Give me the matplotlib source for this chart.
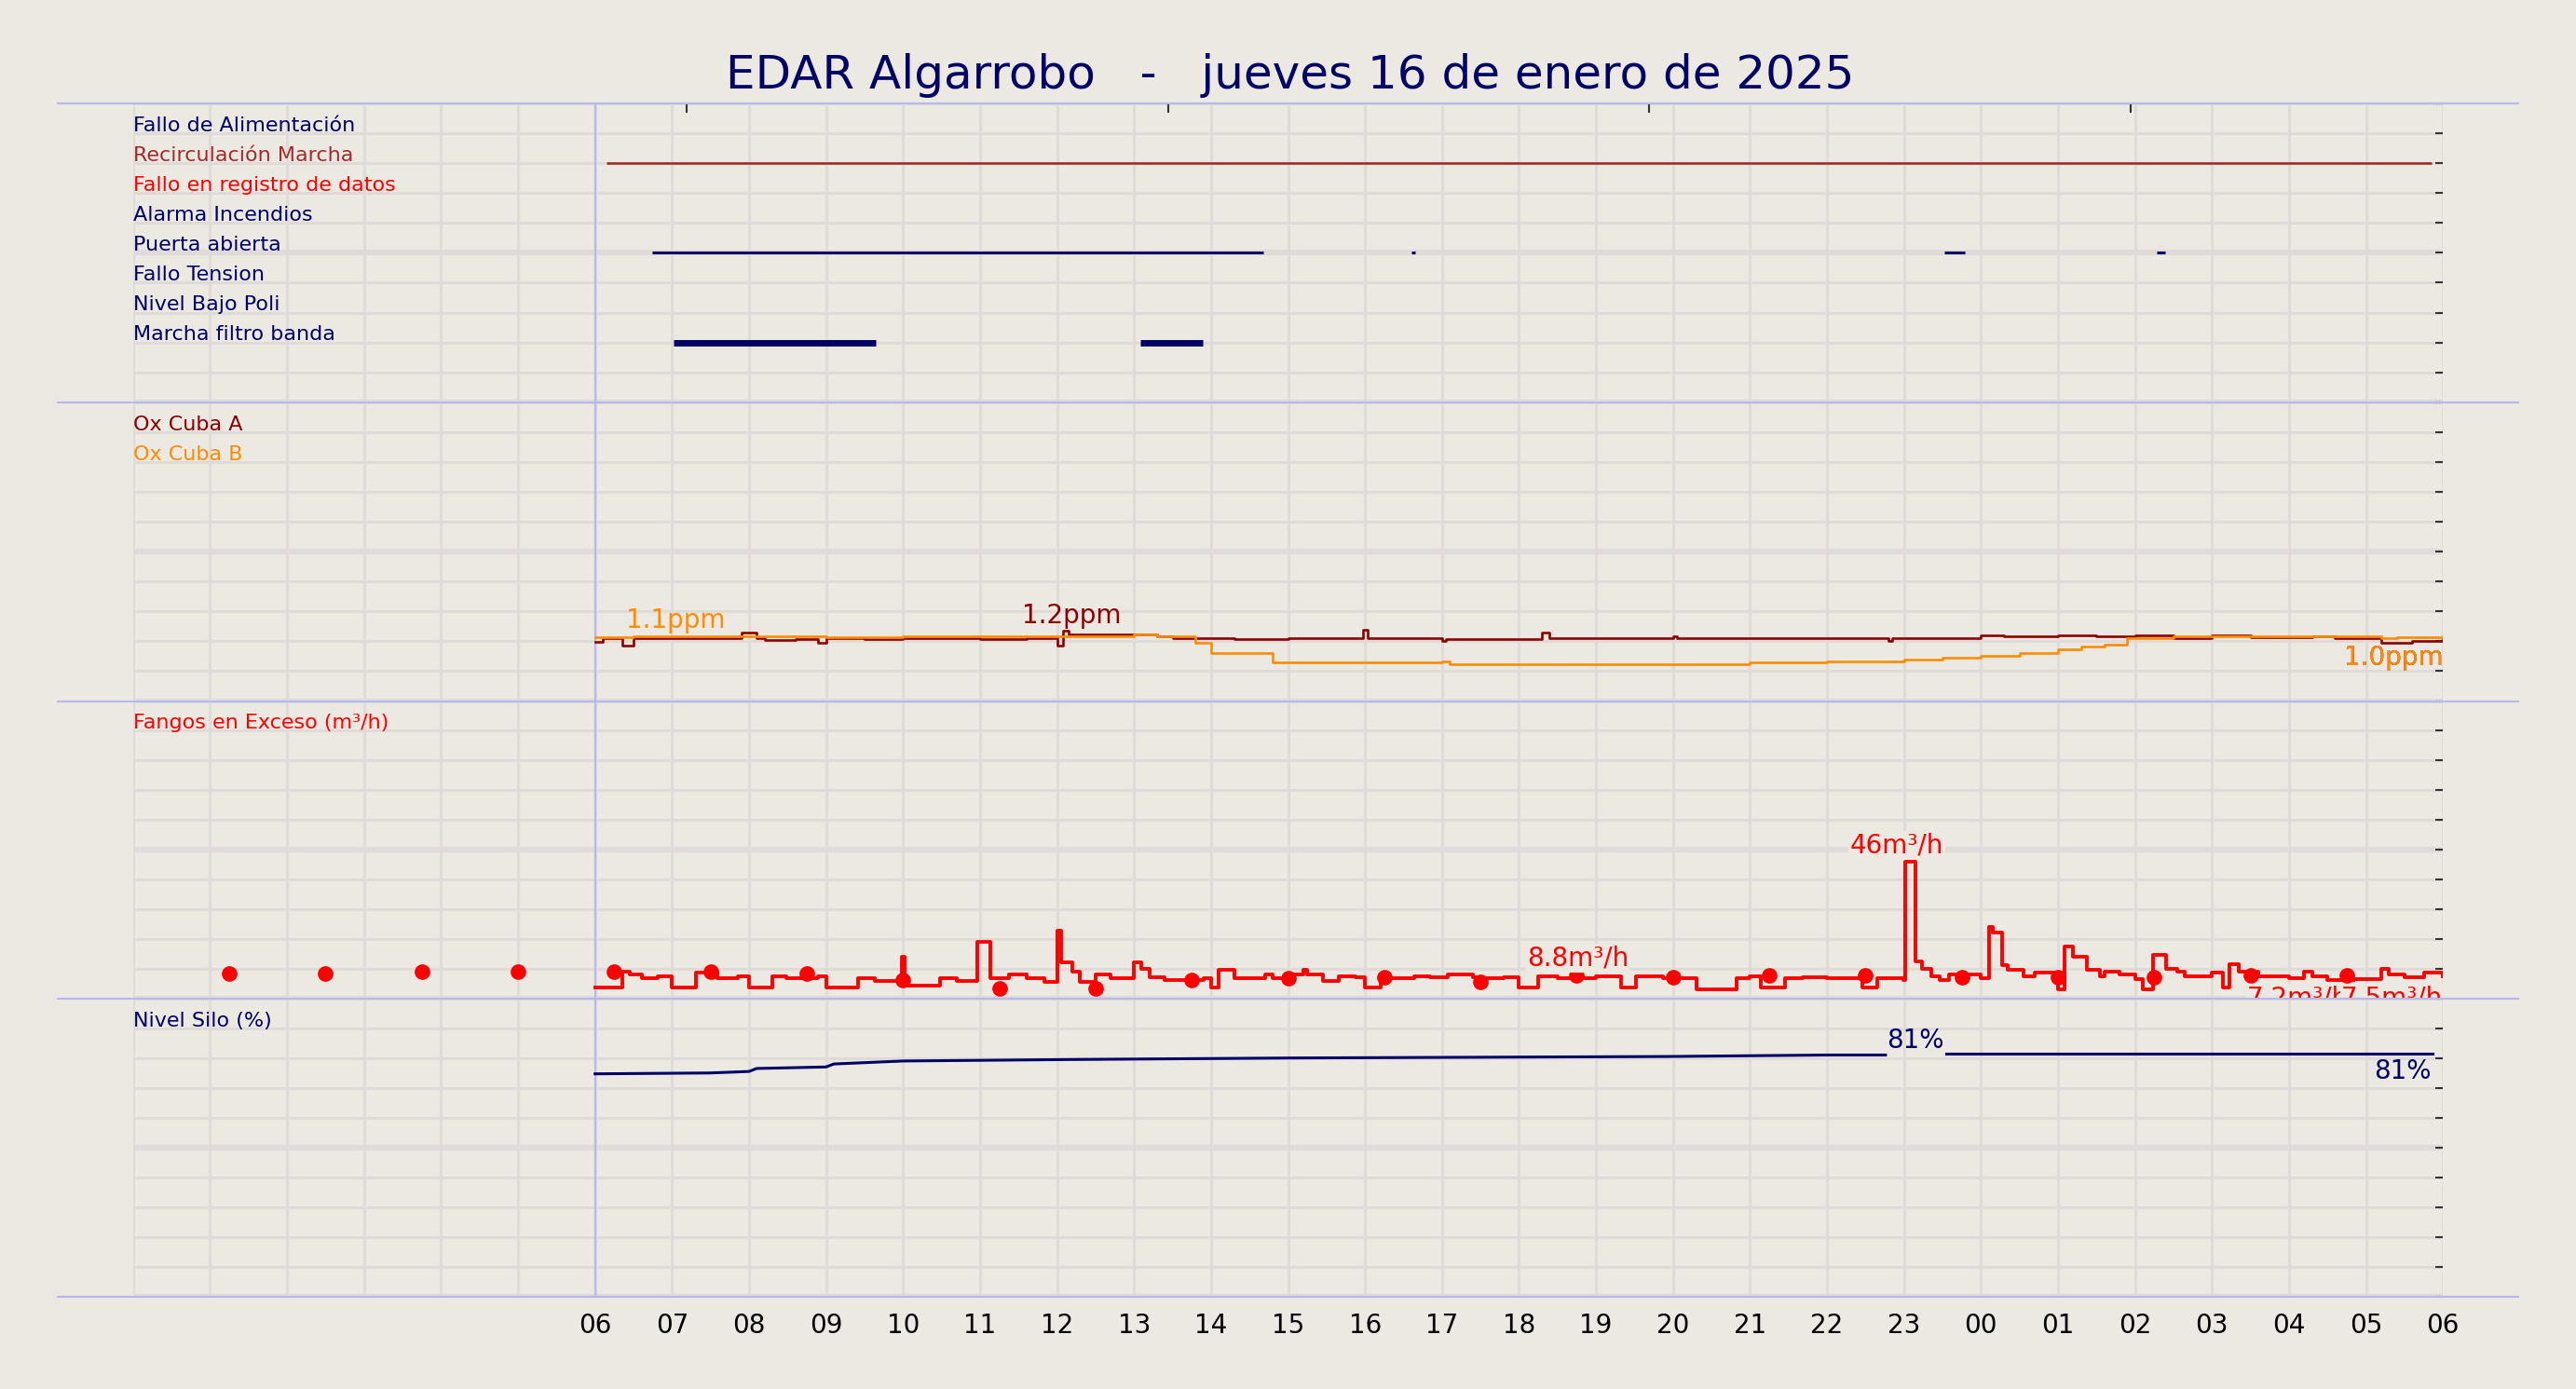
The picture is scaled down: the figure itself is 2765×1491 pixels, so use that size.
import matplotlib
matplotlib.use("Agg")
import matplotlib.pyplot as plt
import numpy as np

BG = "#ECE8E2"
NAVY = "#000066"

title = "EDAR Algarrobo   -   jueves 16 de enero de 2025"
hour_ticks = list(range(6, 31))
hour_labels = ["%02d" % (h % 24) for h in hour_ticks]

# ---- boolean tracks ----
track_names = ["Fallo de Alimentación", "Recirculación Marcha", "Fallo en registro de datos",
               "Alarma Incendios", "Puerta abierta", "Fallo Tension", "Nivel Bajo Poli",
               "Marcha filtro banda"]
track_colors = [NAVY, "#A52A2A", "#FF0000", NAVY, NAVY, NAVY, NAVY, NAVY]
track_on = {
    1: [(6.15, 29.85)],
    4: [(6.74, 14.68), (16.6, 16.65), (23.53, 23.79), (26.28, 26.39)],
    7: [(7.02, 9.64), (13.08, 13.89)],
}
track_lw = {1: 1.9, 4: 2.2, 7: 5.0}

# ---- oxygen (ppm) ----
oxA_t = [6.0, 6.1, 6.35, 6.5, 7.0, 7.9, 8.1, 8.2, 8.6, 8.9, 9.0, 9.5, 10.0, 10.5, 11.0, 11.6, 11.8,
         12.0, 12.08, 12.15, 13.3, 13.5, 14.3, 15.0, 15.98, 16.03, 17.0, 17.05, 18.3, 18.4, 20.0, 20.05,
         22.8, 22.85, 24.0, 24.3, 25.0, 25.5, 26.0, 26.5, 27.0, 27.5, 28.3, 28.6, 29.2, 29.6, 30.0]
oxA_v = [0.99, 1.05, 0.93, 1.05, 1.06, 1.14, 1.05, 1.02, 1.03, 0.98, 1.05, 1.04, 1.06, 1.05, 1.03, 1.06, 1.05,
         0.93, 1.18, 1.12, 1.08, 1.06, 1.03, 1.05, 1.20, 1.05, 1.01, 1.04, 1.14, 1.05, 1.09, 1.05,
         1.00, 1.05, 1.10, 1.08, 1.10, 1.09, 1.10, 1.06, 1.10, 1.07, 1.08, 1.06, 0.97, 1.00, 1.02]
oxB_t = [6.0, 6.5, 7.0, 8.0, 9.0, 10.0, 11.0, 12.0, 13.0, 13.3, 13.8, 14.0, 14.8, 17.0, 17.1, 19.5, 21.0,
         22.0, 23.0, 23.5, 24.0, 24.5, 25.0, 25.3, 25.6, 25.9, 26.5, 28.0, 29.2, 29.4, 30.0]
oxB_v = [1.07, 1.08, 1.09, 1.08, 1.07, 1.08, 1.08, 1.08, 1.12, 1.08, 0.98, 0.80, 0.64, 0.66, 0.62, 0.62, 0.65,
         0.67, 0.70, 0.72, 0.76, 0.80, 0.86, 0.92, 0.95, 1.06, 1.08, 1.08, 1.05, 1.07, 1.08]

# ---- excess sludge (m3/h) ----
fang_t = [6.0, 6.29, 6.36, 6.45, 6.61, 6.82, 7.0, 7.31, 7.59, 7.85, 8.0, 8.3, 8.48, 8.9, 9.0, 9.42, 9.63,
          9.98, 10.02, 10.48, 10.7, 10.97, 11.14, 11.37, 11.6, 11.84, 12.0, 12.05, 12.2, 12.3, 12.5,
          12.7, 13.0, 13.1, 13.2, 13.4, 13.9, 14.0, 14.1, 14.3, 14.7, 14.8, 15.0, 15.2, 15.25, 15.45,
          15.66, 15.88, 16.0, 16.2, 16.64, 16.85, 17.07, 17.4, 17.55, 17.8, 18.0, 18.25, 18.5, 19.0,
          19.33, 19.52, 19.87, 20.3, 20.83, 21.0, 21.14, 21.45, 21.68, 22.0, 22.46, 22.65, 22.99,
          23.02, 23.15, 23.23, 23.35, 23.46, 23.58, 24.0, 24.1, 24.15, 24.27, 24.35, 24.55, 24.7,
          24.95, 25.0, 25.08, 25.2, 25.37, 25.55, 25.6, 25.8, 26.0, 26.1, 26.24, 26.4, 26.55, 26.65,
          27.0, 27.14, 27.23, 27.35, 27.6, 28.0, 28.2, 28.3, 28.5, 28.85, 29.2, 29.3, 29.5, 29.75, 30.0]
fang_v = [3.5, 3.5, 9.0, 8.0, 6.6, 7.5, 3.5, 8.5, 6.6, 7.5, 3.5, 7.5, 6.6, 7.5, 3.5, 6.6, 5.8,
          14.0, 4.2, 6.6, 5.8, 19.0, 6.9, 8.0, 6.9, 5.5, 22.6, 12.0, 9.0, 5.5, 8.0,
          6.6, 12.0, 10.0, 7.0, 6.0, 6.6, 3.5, 9.7, 6.6, 8.0, 6.6, 8.0, 9.7, 8.0, 5.8,
          7.5, 7.0, 3.5, 6.6, 7.5, 7.0, 8.0, 7.0, 6.6, 7.0, 3.5, 7.5, 6.8, 7.5,
          3.5, 7.5, 6.6, 3.0, 6.6, 7.5, 3.5, 6.6, 7.0, 6.6, 3.5, 6.6, 6.0,
          46.0, 12.5, 10.0, 7.5, 6.0, 8.0, 6.6, 24.0, 22.0, 11.0, 9.5, 7.5, 8.5,
          8.0, 3.0, 17.4, 14.0, 9.7, 7.5, 9.0, 8.0, 6.5, 3.0, 14.6, 10.0, 9.0, 7.5,
          8.5, 3.5, 11.4, 9.0, 7.5, 6.6, 9.0, 7.5, 6.0, 6.3, 10.0, 8.0, 7.0, 8.5, 7.5]
dot_t = [1.25 * k for k in range(1, 24)]
dot_v = [8.2, 8.2, 8.8, 8.8, 8.8, 8.8, 8.2, 6.0, 3.3, 3.3, 6.0, 6.6, 7.1, 5.5, 7.6, 7.1,
         7.7, 7.7, 7.1, 7.1, 7.1, 7.7, 7.7]

# ---- silo level (%) ----
silo1_t = [6.0, 7.5, 8.0, 8.1, 9.0, 9.1, 10.0, 12.2, 15.0, 19.9, 22.0, 22.76]
silo1_v = [74.7, 75.0, 75.5, 76.5, 77.0, 78.0, 79.0, 79.5, 80.0, 80.5, 81.0, 81.0]
silo2_t = [23.55, 29.87]
silo2_v = [81.5, 81.5]

fig = plt.figure(figsize=(27.65, 14.91), dpi=100, facecolor=BG)
L, R = 81 / 1568, 1487 / 1568
edges = [1 - y / 846 for y in (63, 245, 427, 608, 790)]
axes = []
for i in range(4):
    ax = fig.add_axes([L, edges[i + 1], R - L, edges[i] - edges[i + 1]])
    ax.set_facecolor(BG)
    for s in ax.spines.values():
        s.set_visible(False)
    ax.set_xlim(0, 30)
    axes.append(ax)

ylims = [(0, 10), (0, 5), (0, 100), (0, 100)]
for ax, (a, b) in zip(axes, ylims):
    ax.set_ylim(a, b)
    yt = np.linspace(a, b, 11)
    ax.set_yticks(yt)
    ax.set_yticklabels([])
    ax.tick_params(axis="y", left=False, right=True, direction="in", length=6, width=1.5, color="#333333")
    for h in range(0, 31):
        ax.axvline(h, color="#E0DBD8", lw=2.2, zorder=0)
    for k, y in enumerate(yt):
        ax.axhline(y, color="#E0DBD8", lw=4.5 if k in (0, 5) else 2.2, zorder=0)
    ax.axvline(6, color="#B8B8F0", lw=1.5, zorder=1)
    ax.set_xticks(hour_ticks)
    ax.set_xticklabels([])
    ax.tick_params(axis="x", length=0)

LBL = 16

# panel 1
ax = axes[0]
for k, name in enumerate(track_names):
    ax.text(0, 9 - k - 0.05, name, color=track_colors[k], fontsize=LBL, va="bottom", ha="left")
    for (a, b) in track_on.get(k, []):
        ax.plot([a, b], [9 - k, 9 - k], color=track_colors[k], lw=track_lw[k], solid_capstyle="butt")
ax.set_xticks([7.19, 13.44, 19.69, 25.94], minor=True)
ax.tick_params(axis="x", which="minor", top=True, bottom=False, direction="in", length=7, width=1.5, color="#333333")

# panel 2
ax = axes[1]
ax.step(oxA_t, oxA_v, where="post", color="#8B0000", lw=1.9)
ax.step(oxB_t, oxB_v, where="post", color="#FF8C00", lw=1.9)
ax.text(0, 4.5 - 0.03, "Ox Cuba A", color="#8B0000", fontsize=LBL, va="bottom")
ax.text(0, 4.0 - 0.03, "Ox Cuba B", color="#FF8C00", fontsize=LBL, va="bottom")
ax.text(6.4, 1.13, "1.1ppm", color="#FF8C00", fontsize=20, va="bottom")
ax.text(11.55, 1.21, "1.2ppm", color="#8B0000", fontsize=20, va="bottom")
ax.text(30, 0.95, "1.0ppm", color="#8B0000", fontsize=20, va="top", ha="right")
ax.text(30, 0.95, "1.0ppm", color="#FF8C00", fontsize=20, va="top", ha="right")

# panel 3
ax = axes[2]
ax.step(fang_t, fang_v, where="post", color="#FF0000", lw=2.8)
ax.plot(dot_t, dot_v, "o", color="#FF0000", ms=11, ls="none")
ax.text(0, 90 - 0.6, "Fangos en Exceso (m³/h)", color="#FF0000", fontsize=LBL, va="bottom")
ax.text(22.3, 47, "46m³/h", color="#FF0000", fontsize=20, va="bottom",
        bbox=dict(facecolor=BG, edgecolor="none", pad=1))
ax.text(18.1, 9.0, "8.8m³/h", color="#FF0000", fontsize=20, va="bottom",
        bbox=dict(facecolor=BG, edgecolor="none", pad=1))
ax.text(27.45, 4.5, "7.2m³/h", color="#FF0000", fontsize=20, va="top",
        bbox=dict(facecolor=BG, edgecolor="none", pad=1))
ax.text(30, 4.5, "7.5m³/h", color="#FF0000", fontsize=20, va="top", ha="right",
        bbox=dict(facecolor=BG, edgecolor="none", pad=1))

# panel 4
ax = axes[3]
ax.plot(silo1_t, silo1_v, color=NAVY, lw=2.2)
ax.plot(silo2_t, silo2_v, color=NAVY, lw=2.2)
ax.text(0, 90 - 0.6, "Nivel Silo (%)", color=NAVY, fontsize=LBL, va="bottom")
ax.text(23.15, 81.5, "81%", color=NAVY, fontsize=20, va="bottom", ha="center")
ax.text(29.85, 80, "81%", color=NAVY, fontsize=20, va="top", ha="right")
ax.set_xticklabels(hour_labels, fontsize=20)
ax.tick_params(axis="x", pad=12)

for y in edges:
    fig.add_artist(plt.Line2D([35 / 1568, 1533 / 1568], [y, y], color="#B8B8F0", lw=1.5))

fig.text(785 / 1568, 1 - 46 / 846, title, ha="center", va="center", fontsize=36, color=NAVY)
fig.savefig("out.png", dpi=100, facecolor=BG)
